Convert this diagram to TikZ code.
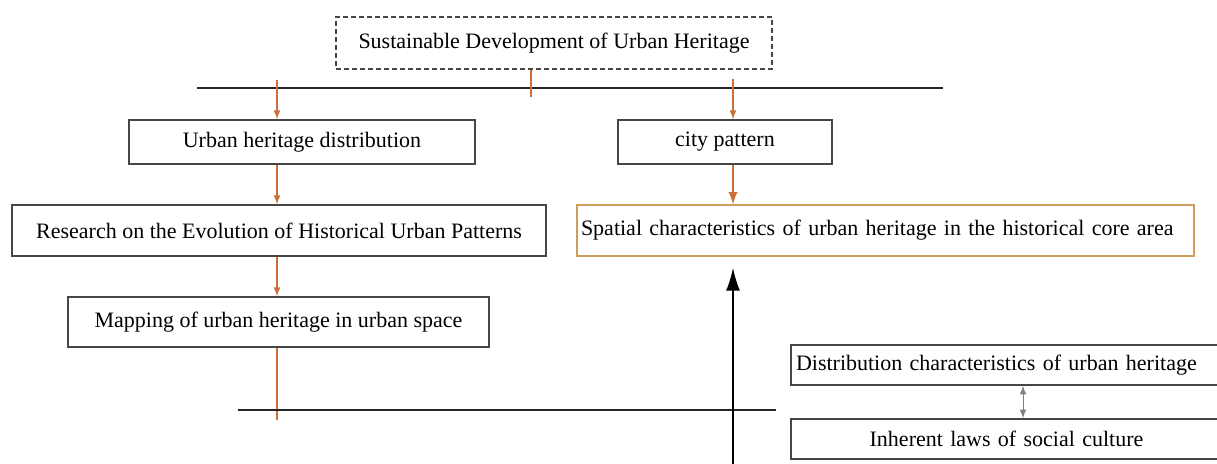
\documentclass[tikz,border=0pt]{standalone}
\usepackage{fontspec}
\setmainfont{Liberation Serif}
\usetikzlibrary{arrows.meta}
\definecolor{linkorange}{RGB}{204,112,56}
\definecolor{coregold}{RGB}{204,160,92}
\definecolor{boxgray}{RGB}{70,70,70}

\begin{document}
\begin{tikzpicture}[x=0.5pt,y=-0.5pt,>=latex]
    \tikzset{
        box/.style={draw=boxgray,line width=0.7pt,inner sep=0pt,font=\fontsize{11}{13}\selectfont},
        link/.style={linkorange,line width=0.55pt},
        rule/.style={black!85,line width=1.1pt}
    }
    \useasboundingbox (0,0) rectangle (1217,464);

    \node[box,dash pattern=on 2.5pt off 1.5pt,minimum width=218pt,minimum height=26pt] (goal) at (554,43)
        {Sustainable Development of Urban Heritage};
    \node[box,minimum width=173pt,minimum height=22pt] (heritagedist) at (302,142) {Urban heritage distribution};
    \node[box,minimum width=107pt,minimum height=22pt] (citypattern) at (725,142) {city pattern};
    \node[box,minimum width=267pt,minimum height=25.5pt] (evolution) at (279,230.5)
        {Research on the Evolution of Historical Urban Patterns};
    \node[box,draw=coregold,inner xsep=2pt,text width=304.5pt,align=left,minimum height=25.5pt] (spatial) at (885.5,230.5)
        {Spatial characteristics of urban heritage in the historical core area};
    \node[box,minimum width=210.5pt,minimum height=25pt] (mapping) at (278.5,322) {Mapping of urban heritage in urban space};
    \node[box,inner xsep=2.5pt,text width=210.5pt,align=left,minimum height=20pt] (distchar) at (1006.5,365)
        {Distribution characteristics of urban heritage};
    \node[box,inner xsep=2.5pt,text width=210.5pt,align=center,minimum height=20pt] (sociallaws) at (1006.5,439)
        {Inherent laws of social culture};

    % free ends
    \coordinate (ruleW) at (197,88);
    \coordinate (ruleE) at (943,88);
    \coordinate (tick) at (531,97);
    \coordinate (leftdrop) at (277,80);
    \coordinate (rightdrop) at (733,79);
    \coordinate (lowW) at (238,410);
    \coordinate (lowE) at (776,410);
    \coordinate (mapend) at (277,420);
    \coordinate (riseS) at (733,466);
    \coordinate (pairx) at (1023,400);

    \draw[rule] (ruleW) -- (ruleE);
    \draw[link] (tick |- goal.south) -- (tick);
    \draw[link,->] (leftdrop) -- (leftdrop |- heritagedist.north);
    \draw[link,->] (rightdrop) -- (rightdrop |- citypattern.north);
    \draw[link,->] (leftdrop |- heritagedist.south) -- (leftdrop |- evolution.north);
    \draw[link,->] (leftdrop |- evolution.south) -- (leftdrop |- mapping.north);
    \draw[link] (leftdrop |- mapping.south) -- (mapend);
    \draw[link,line width=1.1pt,->] (rightdrop |- citypattern.south) -- (rightdrop |- spatial.north);

    \draw[rule] (lowW) -- (lowE);
    \draw[-{Latex[length=11.5pt,width=7pt]},line width=0.9pt,shorten >=5.5pt] (riseS) -- (riseS |- spatial.south);
    \draw[gray,line width=0.5pt,<->] (pairx |- distchar.south) -- (pairx |- sociallaws.north);
\end{tikzpicture}
\end{document}
